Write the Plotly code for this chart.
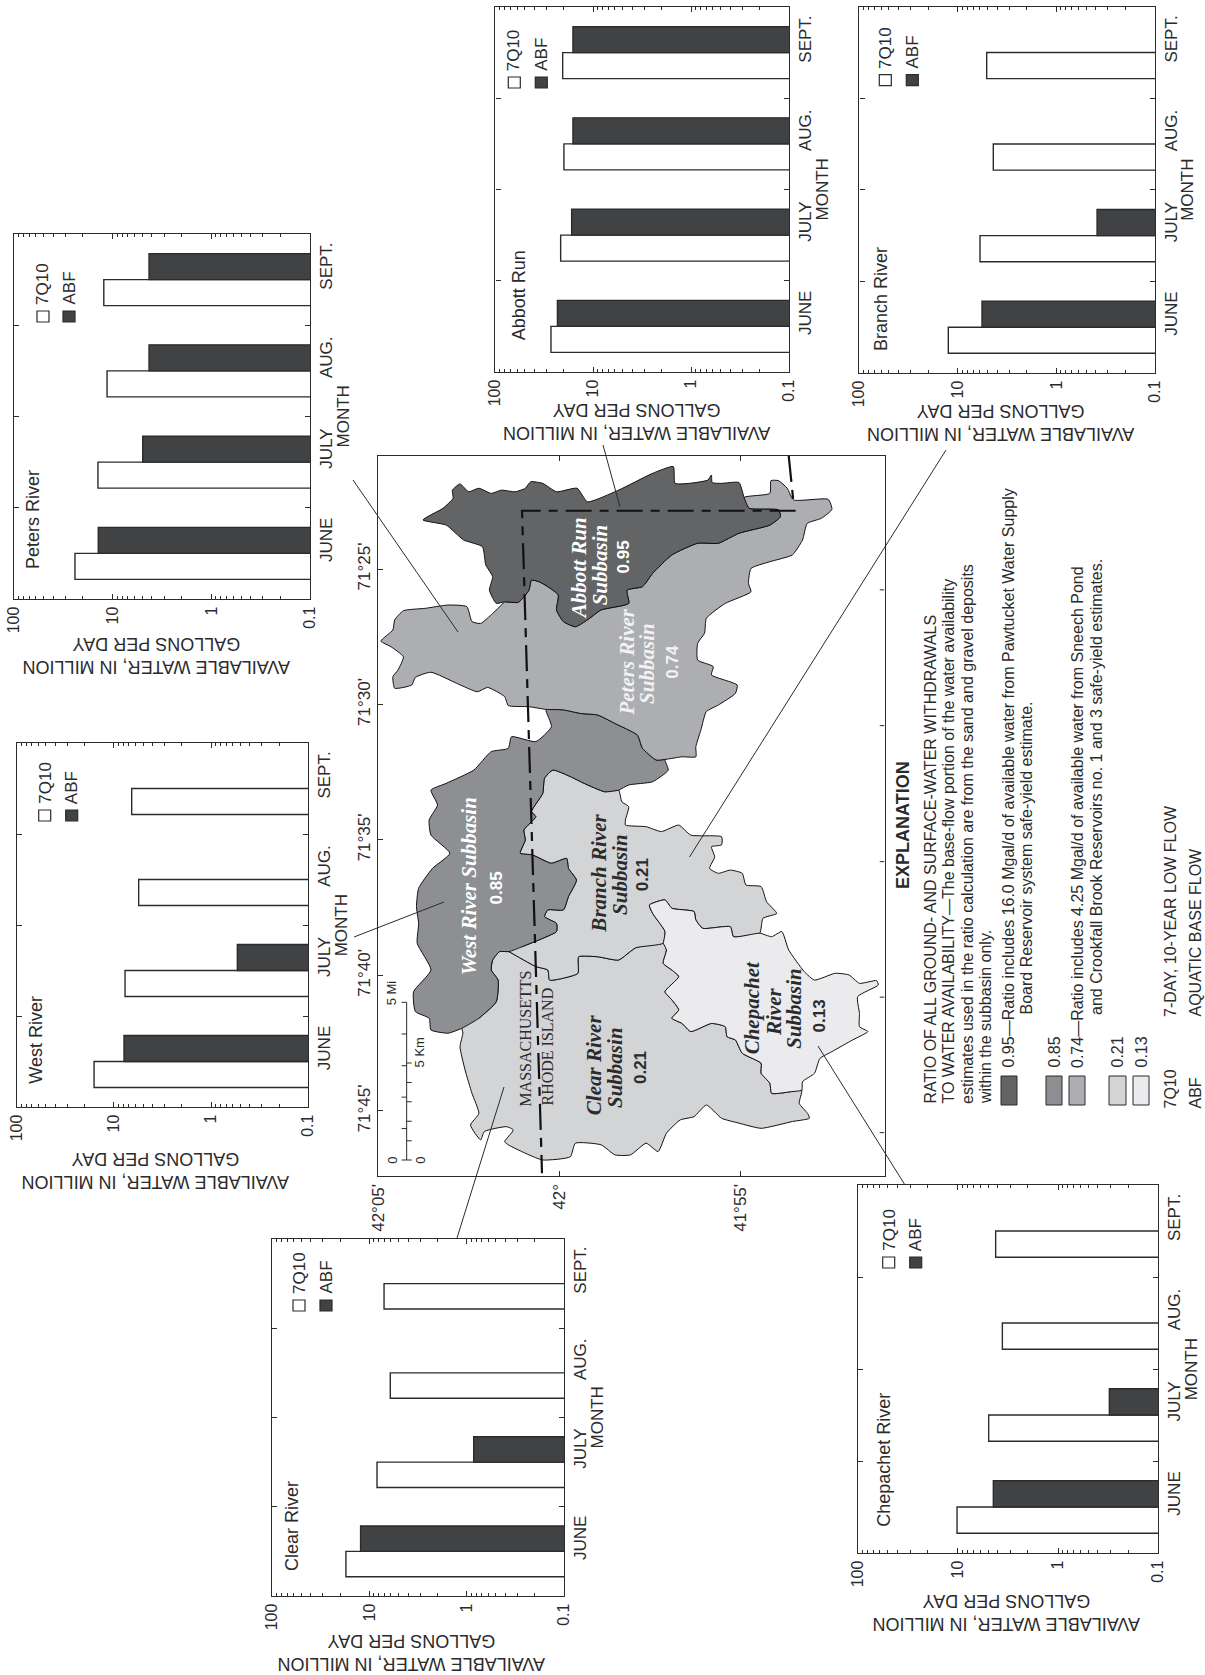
import plotly.graph_objects as go

W, H = 1205, 1675
DARK = "#2b2b2c"
BAR_DARK = "#414244"
SANS = "Liberation Sans, Arial, sans-serif"
SERIF = "Liberation Serif, Times New Roman, serif"

months = ["JUNE", "JULY", "AUG.", "SEPT."]
decades = [100, 10, 1, 0.1]
decade_labels = ["100", "10", "1", "0.1"]
minor_ticks = [2, 3, 4, 5, 6, 7, 8, 9, 20, 30, 40, 50, 60, 70, 80, 90,
               0.2, 0.3, 0.4, 0.5, 0.6, 0.7, 0.8, 0.9]

peters_7q10 = [24.1, 14.1, 11.4, 12.3]
peters_abf = [14.0, 4.96, 4.28, 4.28]
west_7q10 = [16.0, 7.68, 5.56, 6.56]
west_abf = [7.87, 0.537, None, None]
abbott_7q10 = [27.0, 21.5, 19.9, 20.5]
abbott_abf = [23.2, 16.6, 16.1, 16.1]
branch_7q10 = [12.5, 5.96, 4.37, 5.1]
branch_abf = [5.69, 0.387, None, None]
clear_7q10 = [17.4, 8.34, 6.09, 7.06]
clear_abf = [12.3, 0.847, None, None]
chepachet_7q10 = [10.2, 4.93, 3.6, 4.2]
chepachet_abf = [4.43, 0.308, None, None]

# Subbasin outlines: [latitude minutes past 41 deg N, longitude minutes past 71 deg W]
abbott_peters_edge = [[54.91,22.36],[54.77,22.76],[53.96,22.82],[53.91,23.07],[54.20,23.38],[55.05,23.68],[55.62,24.05],[56.19,24.05],[56.90,24.48],[57.43,25.16],[57.71,25.65],[58.14,25.78],[58.09,26.27],[58.85,26.51],[59.23,26.88],[59.56,27.13],[59.89,26.94],[60.08,26.51],[60.03,25.96],[60.32,25.65],[60.56,25.47],[60.77,25.41],[60.84,25.78],[61.13,26.23],[61.51,26.21]]
abbott_outer = [[61.74,26.27],[61.93,25.78],[61.84,25.28],[62.03,24.85],[62.12,24.18],[62.64,23.93],[63.12,23.38],[63.76,23.19],[63.21,22.76],[62.93,22.39],[62.95,22.09],[62.74,21.86],[62.50,22.15],[62.22,22.02],[61.88,22.21],[61.60,22.09],[61.22,22.15],[60.94,22.02],[60.79,21.78],[60.46,21.84],[60.08,22.15],[59.51,22.02],[59.23,22.52],[58.37,22.09],[57.43,21.47],[56.86,21.22],[56.81,21.84],[55.91,21.72],[55.81,21.53],[55.79,21.81],[55.53,21.84],[55.05,21.81],[54.91,22.36]]
peters_east = [[54.91,22.36],[54.20,22.21],[54.17,21.74],[53.96,21.74],[53.72,22.02],[53.55,22.45],[52.59,22.43],[52.49,22.80],[52.78,23.13],[53.17,23.32],[53.30,23.93],[53.58,24.48],[54.20,24.73],[54.72,24.98],[54.79,25.53],[54.72,25.84],[55.43,26.27],[55.95,26.82],[56.00,27.37],[56.19,27.74],[56.19,28.36],[55.76,28.60],[55.81,28.91],[55.10,29.28],[55.15,29.59],[55.62,30.02],[55.95,30.26],[56.10,30.94],[56.24,31.56],[56.24,31.93],[56.62,31.93],[57.05,32.02]]
peters_west_edge = [[57.33,32.05],[57.71,31.62],[57.85,31.13],[58.47,30.70],[58.94,30.39],[59.42,30.33],[59.89,30.20],[60.37,30.18]]
peters_lobe = [[60.84,30.08],[61.41,30.04],[61.51,29.71],[61.98,29.37],[62.26,29.53],[62.83,29.22],[63.54,28.81],[63.97,29.00],[64.07,29.28],[64.54,29.40],[64.59,28.97],[64.45,28.73],[64.30,28.24],[64.64,27.87],[64.92,27.66],[64.59,27.25],[64.54,26.88],[64.30,26.54],[63.69,26.45],[63.07,26.33],[62.55,26.39],[62.41,26.94],[62.17,27.01],[61.84,26.64],[61.51,26.21]]
west_north = [[60.37,30.18],[60.22,30.82],[60.65,31.37],[61.32,31.19],[61.41,31.62],[61.88,31.74],[62.36,32.42],[63.12,32.91],[63.54,33.16],[63.36,33.71],[63.59,34.26],[63.54,34.82],[63.02,35.49],[63.50,36.05],[63.88,36.78],[63.94,37.46],[63.88,38.08],[63.92,38.81],[63.54,39.80],[64.02,40.60],[63.97,41.33],[63.59,41.58],[63.54,42.01],[63.07,42.13],[62.69,41.95]]
west_clear_edge = [[62.22,41.58],[61.74,40.97],[61.69,40.17],[61.88,39.80],[61.84,39.43],[61.65,39.12],[61.39,39.12]]
west_branch_edge = [[61.03,38.94],[60.46,38.63],[60.08,38.38],[60.08,38.08],[60.41,37.83],[60.32,37.58],[59.89,37.58],[59.75,37.09],[59.53,36.48],[59.75,36.05],[59.80,35.68],[60.22,35.86],[60.75,35.55],[61.08,35.49],[60.94,35.00],[60.98,34.63],[60.65,34.14],[60.77,33.95],[60.46,33.28],[60.41,32.72],[60.18,32.42],[59.70,32.66],[59.32,32.91],[58.75,33.22],[58.37,33.16]]
west_tail = [[58.09,32.97],[57.43,32.85],[57.00,32.42],[57.09,32.05],[57.05,32.02]]
branch_east = [[58.28,33.59],[58.09,33.77],[58.18,34.26],[58.18,34.45],[57.61,34.51],[57.19,34.69],[56.71,34.45],[56.38,34.82],[55.53,34.88],[55.53,35.18],[55.81,35.25],[55.72,35.62],[55.86,36.05],[55.62,36.23],[55.29,36.11],[54.96,36.23],[54.86,36.66],[54.44,36.72],[54.29,37.28],[54.01,37.71],[54.39,37.89],[54.48,38.44]]
branch_chepachet_edge = [[55.20,38.57],[55.29,38.20],[56.05,38.26],[56.24,37.95],[56.29,37.64],[56.90,37.52],[57.09,37.21],[57.52,37.40],[57.43,37.71],[57.09,38.38],[57.14,38.81]]
branch_clear_edge = [[57.90,38.98],[58.37,39.43],[58.94,39.31],[59.47,39.31],[59.49,39.92],[59.89,40.10],[60.27,40.17],[60.32,39.80],[60.65,39.67],[61.39,39.12]]
chepachet_east = [[54.48,38.44],[54.15,38.57],[53.87,38.38],[53.68,39.06],[53.25,39.86],[52.97,40.17],[52.40,39.92],[52.02,39.98],[51.73,40.29],[51.26,40.19],[51.21,40.35],[51.78,40.78],[51.73,41.40],[51.73,41.89],[51.50,42.07],[51.92,42.38],[52.49,42.81],[52.82,43.06],[52.97,43.61],[53.30,43.92],[53.32,44.23],[53.63,44.29],[54.15,44.35]]
chepachet_clear_edge = [[54.20,43.98],[54.44,43.61],[54.44,43.24],[54.96,42.87],[55.15,42.38],[55.38,42.26],[55.43,41.89],[55.81,41.77],[56.38,42.07],[56.62,41.77],[56.90,41.58],[56.71,41.27],[56.90,40.90],[57.09,40.60],[56.71,40.04],[56.90,39.80],[57.14,39.55],[57.05,39.06],[57.14,38.81]]
clear_outer = [[54.15,44.35],[53.63,44.29],[53.32,44.23],[53.39,44.72],[53.16,45.09],[53.11,45.27],[53.58,45.39],[54.44,45.64],[55.05,45.45],[55.53,45.27],[55.95,44.78],[56.29,45.21],[56.67,45.33],[57.05,45.82],[57.28,46.50],[57.61,46.19],[58.04,46.62],[58.47,46.62],[58.85,46.25],[59.56,46.19],[59.70,46.69],[60.46,46.81],[60.84,46.62],[61.41,46.25],[61.51,46.13],[61.27,45.70],[61.46,45.58],[62.07,45.76],[62.17,46.07],[62.45,45.52],[62.22,45.09],[62.41,44.35],[62.60,43.49],[62.74,42.63],[62.66,42.13],[62.69,41.95]]

state_line_lat = [53.49, 61.03, 60.48]
state_line_lon = [22.85, 22.85, 47.30]
state_stub_lat = [53.68, 53.55]
state_stub_lon = [20.83, 22.52]

lat_ticks = [65, 60, 55]
lat_labels = ["42°05'", "42°", "41°55'"]
lon_ticks = [25, 30, 35, 40, 45]
lon_labels = ["71°25'", "71°30'", "71°35'", "71°40'", "71°45'"]
east_edge_lon_ticks = [25.77, 30.78, 35.8, 40.8, 45.8]

scale_lat = 64.21
scale_lon_zero = 46.81
scale_lon_five_mi = 40.99
scale_mi_ticks = [46.81, 45.65, 44.49, 43.33, 42.16, 40.99]
scale_km_ticks = [46.81, 46.10, 45.38, 44.66, 43.95, 43.23]

# Panels: name, values, frame l/r/t/b, legend offsets, title shift, label offsets
panels = [
    dict(name="Peters River", q=peters_7q10, a=peters_abf, f=(14, 310, 234, 599), leg=(23, 49, 77), ts=(-5, 57), nm=(19, 286)),
    dict(name="West River", q=west_7q10, a=west_abf, f=(16.7, 308.3, 743, 1107), leg=(22, 49, 67), ts=(-7, 64), nm=(19, 297)),
    dict(name="Abbott Run", q=abbott_7q10, a=abbott_abf, f=(495.3, 789, 7, 372), leg=(13, 40, 70), ts=(-5, 50), nm=(24, 288)),
    dict(name="Branch River", q=branch_7q10, a=branch_abf, f=(859.3, 1155, 6.7, 373), leg=(20, 47, 68), ts=(-6, 50), nm=(21, 292)),
    dict(name="Clear River", q=clear_7q10, a=clear_abf, f=(272, 564, 1239, 1596), leg=(21, 48, 61), ts=(-6, 57), nm=(20, 287)),
    dict(name="Chepachet River", q=chepachet_7q10, a=chepachet_abf, f=(857.7, 1158.3, 1185, 1553), leg=(25, 52, 72), ts=(-1, 60), nm=(26, 275)),
]

fig = go.Figure()
annotations, shapes, layout = [], [], {}


def px(x):
    return x / W


def py(y):
    return 1 - y / H


def text(t, x, y, size=17, angle=-90, xa="center", ya="middle", color=DARK, family=SANS):
    annotations.append(dict(text=t, x=px(x), y=py(y), xref="paper", yref="paper", showarrow=False,
                            textangle=angle, xanchor=xa, yanchor=ya, borderpad=0,
                            font=dict(size=size, color=color, family=family)))


def rect(x0, x1, y0, y1, fill, lw=1.2):
    shapes.append(dict(type="rect", xref="paper", yref="paper", x0=px(x0), x1=px(x1), y0=py(y1), y1=py(y0),
                       fillcolor=fill, line=dict(color=DARK, width=lw), layer="above"))


def leader(x0, y0, x1, y1):
    shapes.append(dict(type="line", xref="paper", yref="paper", x0=px(x0), x1=px(x1), y0=py(y0), y1=py(y1),
                       line=dict(color=DARK, width=1), layer="above"))


for i, p in enumerate(panels, start=1):
    l, r, t, b = p["f"]
    xa, ya = f"x{i}", f"y{i}"
    for vals, fill in ((p["q"], "white"), (p["a"], BAR_DARK)):
        fig.add_trace(go.Bar(y=months, x=vals, orientation="h", xaxis=xa, yaxis=ya, marker=dict(color=fill, line=dict(color=DARK, width=1.4)),
                             showlegend=False, hoverinfo="skip"))
    layout[f"xaxis{i}"] = dict(domain=[px(l), px(r)], anchor=ya, type="log", range=[2, -1], tickmode="array", automargin=False,
                               tickvals=decades, ticktext=decade_labels, tickangle=-90, ticks="inside", ticklen=5,
                               tickwidth=1.3, tickcolor=DARK, mirror="ticks", showline=True, linecolor=DARK, linewidth=1.4,
                               showgrid=False, zeroline=False, tickfont=dict(size=16, color=DARK, family=SANS),
                               minor=dict(tickmode="array", tickvals=minor_ticks, ticks="inside", ticklen=3, tickcolor=DARK, tickwidth=1, showgrid=False))
    layout[f"yaxis{i}"] = dict(domain=[py(b), py(t)], anchor=xa, side="right", type="category", categoryorder="array", automargin=False,
                               categoryarray=months, range=[-0.5, 3.5], tickson="boundaries", ticks="inside", ticklen=5,
                               tickwidth=1.3, tickcolor=DARK, mirror="ticks", showline=True, linecolor=DARK, linewidth=1.4,
                               showgrid=False, zeroline=False, tickangle=-90, ticklabelshift=-11, ticklabelstandoff=0,
                               tickfont=dict(size=17, color=DARK, family=SANS))
    text(p["name"], l + p["nm"][0], t + p["nm"][1], size=18)
    text("MONTH", r + 33, (t + b) / 2, size=17)
    text("AVAILABLE WATER, IN MILLION<br>GALLONS PER DAY", (l + r) / 2 + p["ts"][0], b + p["ts"][1], size=18, angle=180)
    s1, s2, top = p["leg"]
    rect(l + s1, l + s1 + 12, t + top, t + top + 11, "white")
    rect(l + s2, l + s2 + 12, t + top, t + top + 11, BAR_DARK)
    text("7Q10", l + s1 + 6, t + top - 5, size=17, ya="bottom")
    text("ABF", l + s2 + 6, t + top - 5, size=17, ya="bottom")


def unzip(*segments):
    pts = []
    for s in segments:
        pts.extend(s)
    return [q[0] for q in pts], [q[1] for q in pts]


polygons = [
    ("#d3d4d6", unzip(west_clear_edge, branch_clear_edge[::-1], chepachet_clear_edge[::-1], clear_outer)),
    ("#d3d4d6", unzip(west_branch_edge, branch_east, branch_chepachet_edge, branch_clear_edge)),
    ("#ebebed", unzip(chepachet_east, chepachet_clear_edge, branch_chepachet_edge[::-1], chepachet_east[:1])),
    ("#8e8f92", unzip(west_north, west_clear_edge, west_branch_edge, west_tail, peters_west_edge)),
    ("#adaeb1", unzip(peters_east, peters_west_edge, peters_lobe, abbott_peters_edge[::-1])),
    ("#636466", unzip(abbott_peters_edge, abbott_outer)),
]
for colour, (lats, lons) in polygons:
    fig.add_trace(go.Scatter(x=lats, y=lons, xaxis="x7", yaxis="y7", mode="lines", fill="toself", fillcolor=colour,
                             line=dict(color="#111111", width=1, shape="spline", smoothing=0.5), showlegend=False, hoverinfo="skip"))
for lats, lons in ((state_line_lat, state_line_lon), (state_stub_lat, state_stub_lon)):
    fig.add_trace(go.Scatter(x=lats, y=lons, xaxis="x7", yaxis="y7", mode="lines",
                             line=dict(color="#111111", width=2.2, dash="26px,8px,9px,8px"), showlegend=False, hoverinfo="skip"))
fig.add_trace(go.Scatter(x=[scale_lat, scale_lat], y=[scale_lon_zero, scale_lon_five_mi], xaxis="x7", yaxis="y7", mode="lines",
                         line=dict(color=DARK, width=1), showlegend=False, hoverinfo="skip"))
for v in scale_mi_ticks:
    shapes.append(dict(type="line", xref="x7", yref="y7", x0=scale_lat, x1=scale_lat + 0.14, y0=v, y1=v, line=dict(color=DARK, width=1)))
for v in scale_km_ticks:
    shapes.append(dict(type="line", xref="x7", yref="y7", x0=scale_lat, x1=scale_lat - 0.14, y0=v, y1=v, line=dict(color=DARK, width=1)))
for v in east_edge_lon_ticks:
    shapes.append(dict(type="line", xref="x7", yref="y7", x0=51.04, x1=51.17, y0=v, y1=v, line=dict(color=DARK, width=1)))

layout["xaxis7"] = dict(domain=[px(378), px(884.5)], anchor="y7", range=[65.0, 51.04], tickmode="array", tickvals=lat_ticks, automargin=False,
                        ticktext=lat_labels, tickangle=-90, ticks="inside", ticklen=5, tickcolor=DARK, tickwidth=1, mirror="ticks",
                        showline=True, linecolor=DARK, linewidth=1.3, showgrid=False, zeroline=False,
                        tickfont=dict(size=17, color=DARK, family=SANS))
layout["yaxis7"] = dict(domain=[py(1176), py(456)], anchor="x7", range=[47.40, 20.83], tickmode="array", tickvals=lon_ticks, automargin=False,
                        ticktext=lon_labels, tickangle=-90, ticks="inside", ticklen=5, tickcolor=DARK, tickwidth=1, showline=True,
                        linecolor=DARK, linewidth=1.3, showgrid=False, zeroline=False, mirror=True,
                        tickfont=dict(size=17, color=DARK, family=SANS))


def map_text(t, lat, lon, size, color, family=SERIF):
    annotations.append(dict(text=t, x=lat, y=lon, xref="x7", yref="y7", showarrow=False, textangle=-90, borderpad=0,
                            font=dict(size=size, color=color, family=family)))


WHITE = "#ffffff"
for t, lat, lon, c in [("Abbott Run", 59.44, 24.98, WHITE), ("Subbasin", 58.87, 24.85, WHITE),
                       ("Peters River", 58.14, 28.42, "#f2f2f2"), ("Subbasin", 57.57, 28.48, "#f2f2f2"),
                       ("West River Subbasin", 62.50, 36.72, WHITE),
                       ("Branch River", 58.90, 36.23, DARK), ("Subbasin", 58.33, 36.29, DARK),
                       ("Clear River", 59.04, 43.30, DARK), ("Subbasin", 58.45, 43.39, DARK),
                       ("Chepachet", 54.69, 41.21, DARK), ("River", 54.10, 41.33, DARK), ("Subbasin", 53.52, 41.21, DARK)]:
    map_text(f"<b><i>{t}</i></b>", lat, lon, 21, c)
for t, lat, lon, c in [("0.95", 58.23, 24.55, WHITE), ("0.74", 56.87, 28.42, "#f2f2f2"), ("0.85", 61.74, 36.78, WHITE),
                       ("0.21", 57.69, 36.29, DARK), ("0.21", 57.76, 43.39, DARK), ("0.13", 52.82, 41.48, DARK)]:
    map_text(f"<b>{t}</b>", lat, lon, 17, c, SANS)
map_text("MASSACHUSETTS", 60.94, 42.32, 16, DARK)
map_text("RHODE ISLAND", 60.32, 42.63, 16, DARK)
map_text("0", 64.62, 46.81, 13, DARK, SANS)
map_text("0", 63.85, 46.81, 13, DARK, SANS)
map_text("5 Mi", 64.62, 40.63, 13, DARK, SANS)
map_text("5 Km", 63.85, 42.85, 13, DARK, SANS)

# Leader lines
leader(353, 480, 458, 632)
leader(354, 937, 444, 902)
leader(603, 445, 620, 507)
leader(946, 450, 689.5, 857)
leader(457, 1238, 504, 1087)
leader(818, 1046, 905, 1185)

# Explanation
text("<b>EXPLANATION</b>", 903, 825, size=18)
BOT = 1105
for t, x, y in [("RATIO OF ALL GROUND- AND SURFACE-WATER WITHDRAWALS", 930, BOT),
                ("TO WATER AVAILABILITY—The base-flow portion of the water availability", 948, BOT),
                ("estimates used in the ratio calculation are from the sand and gravel deposits", 967, BOT),
                ("within the subbasin only.", 985, BOT),
                ("0.95—Ratio includes 16.0 Mgal/d of available water from Pawtucket Water Supply", 1008, 1069),
                ("Board Reservoir system safe-yield estimate.", 1026, 1016),
                ("0.85", 1054, 1069),
                ("0.74—Ratio includes 4.25 Mgal/d of available water from Sneech Pond", 1077, 1069),
                ("and Crookfall Brook Reservoirs no. 1 and 3 safe-yield estimates.", 1096, 1016),
                ("0.21", 1117, 1069),
                ("0.13", 1141, 1069),
                ("7Q10", 1170, 1110),
                ("7-DAY, 10-YEAR LOW FLOW", 1170, 1018),
                ("ABF", 1195, 1110),
                ("AQUATIC BASE FLOW", 1195, 1018)]:
    text(t, x, y, size=16, ya="bottom")
for x0, x1, c in [(1001, 1017, "#636466"), (1046, 1062, "#8e8f92"), (1069, 1085, "#adaeb1"),
                  (1109, 1126, "#d3d4d6"), (1133, 1149, "#ebebed")]:
    rect(x0, x1, 1076, 1105, c, lw=1)

fig.update_layout(width=W, height=H, margin=dict(l=0, r=0, t=0, b=0, autoexpand=False), paper_bgcolor="white", plot_bgcolor="white",
                  barmode="group", bargap=0.43, bargroupgap=0, annotations=annotations, shapes=shapes,
                  font=dict(family=SANS, color=DARK), showlegend=False, **layout)
fig.write_html("out.html", config={"displayModeBar": False}, post_script="document.body.style.margin='0';")
